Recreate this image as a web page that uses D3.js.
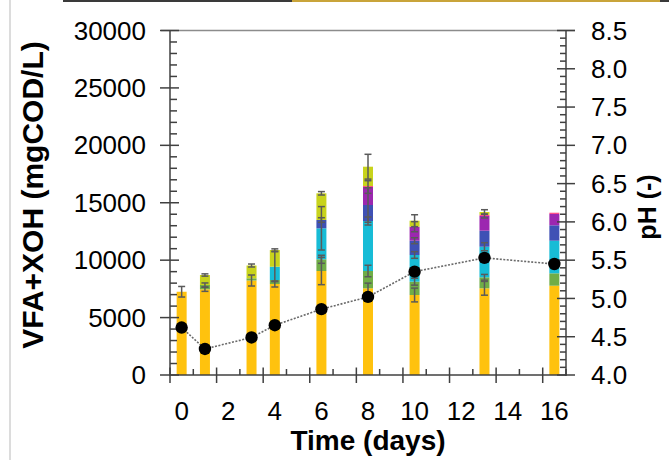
<!DOCTYPE html>
<html>
<head>
<meta charset="utf-8">
<script src="https://cdn.jsdelivr.net/npm/d3@7"></script>
<style>
  html, body { margin: 0; padding: 0; background: #fff; }
  svg { display: block; }
  text { font-family: "Liberation Sans", Arial, sans-serif; fill: #000; }
</style>
</head>
<body>
<svg id="chart" width="669" height="462"></svg>
<script>
// Sampling days
const days = [0, 1, 3, 4, 6, 8, 10, 13, 16];

// Stacked components (mgCOD/L), bottom to top
const seriesNames = ["acetate", "propionate", "butyrate", "valerate", "caproate", "heptanoate", "xoh"];
const seriesColors = ["#FFC20E", "#70AD47", "#17BCD6", "#3F51B5", "#9C27B0", "#FF4F8B", "#C8D31C"];
const acetate    = [7250, 7463, 8229, 7924, 9056, 7550, 6966, 7550, 7776];
const propionate = [0, 374, 192, 349, 1019, 1506, 1159, 958, 1080];
const butyrate   = [0, 0, 0, 1158, 2700, 4354, 2325, 2664, 2839];
const valerate   = [0, 0, 0, 0, 722, 1394, 1245, 1394, 1341];
const caproate   = [0, 0, 0, 0, 0, 1567, 1219, 1280, 984];
const heptanoate = [0, 0, 0, 0, 0, 87, 0, 100, 113];
const xoh        = [0, 871, 1114, 1454, 2325, 1681, 523, 248, 0];

// Standard deviations of each component
const acetateSd    = [460, 180, 480, 260, 1190, 450, 600, 600, 0];
const propionateSd = [0, 180, 0, 0, 350, 500, 300, 250, 0];
const butyrateSd   = [0, 0, 0, 1300, 1890, 350, 290, 350, 0];
const valerateSd   = [0, 0, 0, 0, 200, 1500, 260, 0, 0];
const caproateSd   = [0, 0, 0, 0, 0, 550, 440, 170, 0];
const heptanoateSd = [0, 0, 0, 0, 0, 0, 0, 0, 0];
const xohSd        = [0, 100, 130, 100, 150, 1080, 520, 200, 0];

// pH on the secondary axis
const pH = [4.62, 4.34, 4.49, 4.65, 4.86, 5.02, 5.35, 5.53, 5.45];

// Axis ticks
const leftTicks = [0, 5000, 10000, 15000, 20000, 25000, 30000];
const rightTicks = [4.0, 4.5, 5.0, 5.5, 6.0, 6.5, 7.0, 7.5, 8.0, 8.5];
const xTickLabels = [0, 2, 4, 6, 8, 10, 12, 14, 16];

const values = [acetate, propionate, butyrate, valerate, caproate, heptanoate, xoh];
const sds = [acetateSd, propionateSd, butyrateSd, valerateSd, caproateSd, heptanoateSd, xohSd];

const svg = d3.select("#chart");
const axisColor = "#404040";

const x = d3.scaleLinear().domain([-0.5, 16.5]).range([170, 566]);
const yL = d3.scaleLinear().domain([0, 30000]).range([375, 30.5]);
const yR = d3.scaleLinear().domain([4, 8.5]).range([375, 30.5]);

// Page decorations: header rule and left margin line
svg.append("line").attr("x1", 63).attr("x2", 292).attr("y1", 1).attr("y2", 1)
  .attr("stroke", "#3a3a3a").attr("stroke-width", 2);
svg.append("line").attr("x1", 292).attr("x2", 660).attr("y1", 1).attr("y2", 1)
  .attr("stroke", "#C9A43A").attr("stroke-width", 2);
svg.append("line").attr("x1", 660).attr("x2", 669).attr("y1", 1).attr("y2", 1)
  .attr("stroke", "#3a3a3a").attr("stroke-width", 2);
svg.append("line").attr("x1", 10).attr("x2", 10).attr("y1", 0).attr("y2", 460)
  .attr("stroke", "#d0d0d0").attr("stroke-width", 1.5);

// Stack layout
const table = days.map((d, i) => {
  const row = { day: d };
  seriesNames.forEach((n, k) => { row[n] = values[k][i]; });
  return row;
});
const stacked = d3.stack().keys(seriesNames)(table);

const barW = 10;
const gBars = svg.append("g");
stacked.forEach((layer, k) => {
  gBars.selectAll(null).data(layer.filter(s => s[1] - s[0] > 0)).enter().append("rect")
    .attr("x", s => x(s.data.day) - barW / 2)
    .attr("width", barW)
    .attr("y", s => yL(s[1]))
    .attr("height", s => yL(s[0]) - yL(s[1]))
    .attr("fill", seriesColors[k]);
});

// Error bars at each segment top
const gErr = svg.append("g").attr("stroke", "#5a5a5a").attr("stroke-width", 1.5);
stacked.forEach((layer, k) => {
  layer.forEach((s, i) => {
    const e = sds[k][i];
    if (!e || s[1] - s[0] <= 0) return;
    const cx = x(s.data.day);
    const y1 = yL(s[1] + e), y2 = yL(s[1] - e);
    gErr.append("line").attr("x1", cx).attr("x2", cx).attr("y1", y1).attr("y2", y2);
    [y1, y2].forEach(yy => gErr.append("line")
      .attr("x1", cx - 3.5).attr("x2", cx + 3.5).attr("y1", yy).attr("y2", yy));
  });
});

// Frame top rule
svg.append("line").attr("x1", 161).attr("x2", 575).attr("y1", 30.5).attr("y2", 30.5)
  .attr("stroke", "#8c8c8c").attr("stroke-width", 1.5);

// Left axis
const gL = svg.append("g").attr("stroke", axisColor).attr("stroke-width", 1.5);
gL.append("line").attr("x1", 170).attr("x2", 170).attr("y1", 30.5).attr("y2", 376);
d3.range(0, 30001, 1000).forEach(v => {
  const major = v % 5000 === 0;
  gL.append("line").attr("x1", major ? 160 : 170).attr("x2", major ? 179 : 177)
    .attr("y1", yL(v)).attr("y2", yL(v));
});
svg.append("g").selectAll("text").data(leftTicks).enter().append("text")
  .attr("x", 146).attr("y", d => yL(d)).attr("dy", "0.35em")
  .attr("text-anchor", "end").attr("font-size", 26).text(d => d);

// Right axis
const gR = svg.append("g").attr("stroke", axisColor).attr("stroke-width", 1.5);
gR.append("line").attr("x1", 566).attr("x2", 566).attr("y1", 30.5).attr("y2", 376);
d3.range(40, 86, 1).forEach(t => {
  const v = t / 10;
  const major = t % 5 === 0;
  gR.append("line").attr("x1", major ? 557 : 560).attr("x2", major ? 575 : 566)
    .attr("y1", yR(v)).attr("y2", yR(v));
});
svg.append("g").selectAll("text").data(rightTicks).enter().append("text")
  .attr("x", 591).attr("y", d => yR(d)).attr("dy", "0.35em")
  .attr("text-anchor", "start").attr("font-size", 26).text(d => d.toFixed(1));

// Bottom axis (ticks sit between the day labels)
const gX = svg.append("g").attr("stroke", axisColor).attr("stroke-width", 1.5);
gX.append("line").attr("x1", 170).attr("x2", 566).attr("y1", 375).attr("y2", 375);
d3.range(-0.5, 16.6, 1).forEach((t, i) => {
  const major = i % 2 === 0;
  gX.append("line").attr("x1", x(t)).attr("x2", x(t))
    .attr("y1", major ? 367.5 : 369).attr("y2", major ? 383 : 375);
});
svg.append("g").selectAll("text").data(xTickLabels).enter().append("text")
  .attr("x", d => x(d)).attr("y", 420)
  .attr("text-anchor", "middle").attr("font-size", 26).text(d => d);

// pH trend
svg.append("path")
  .datum(days.map((d, i) => [d, pH[i]]))
  .attr("fill", "none").attr("stroke", "#6a6a6a").attr("stroke-width", 1.6)
  .attr("stroke-dasharray", "2,1.5")
  .attr("d", d3.line().x(d => x(d[0])).y(d => yR(d[1])));
svg.append("g").selectAll("circle").data(days.map((d, i) => [d, pH[i]])).enter()
  .append("circle")
  .attr("cx", d => x(d[0])).attr("cy", d => yR(d[1])).attr("r", 6.2)
  .attr("fill", "#000");

// Axis titles
svg.append("text").attr("transform", "translate(43,195) rotate(-90)")
  .attr("text-anchor", "middle").attr("font-size", 30).attr("font-weight", "bold")
  .text("VFA+XOH (mgCOD/L)");
svg.append("text").attr("transform", "translate(656,207) rotate(-90)")
  .attr("text-anchor", "middle").attr("font-size", 25).attr("font-weight", "bold")
  .text("pH (-)");
svg.append("text").attr("x", 368).attr("y", 450)
  .attr("text-anchor", "middle").attr("font-size", 28).attr("font-weight", "bold")
  .text("Time (days)");
</script>
</body>
</html>
